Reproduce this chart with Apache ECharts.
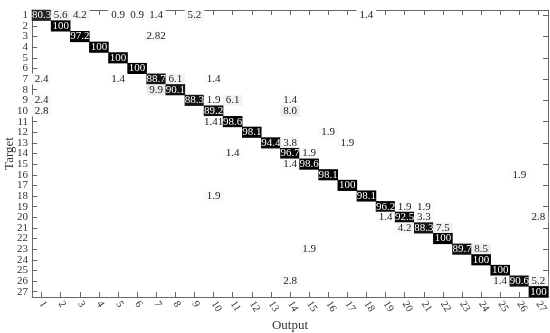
<!DOCTYPE html>
<html>
<head>
<meta charset="utf-8">
<script src="https://cdn.jsdelivr.net/npm/echarts@6/dist/echarts.min.js"></script>
<style>html,body{margin:0;padding:0;background:#fff}#c{width:550px;height:333px}</style>
</head>
<body>
<div id="c"></div>
<script>
// Tick labels
const outputs = Array.from({length: 27}, (_, i) => String(i + 1));
const targets = Array.from({length: 27}, (_, i) => String(i + 1));

// Non-zero cells: [target, output, value text] (percent)
const cells = [
  [1, 1, '80.3'], [1, 2, '5.6'], [1, 3, '4.2'], [1, 5, '0.9'], [1, 6, '0.9'], [1, 7, '1.4'], [1, 9, '5.2'], [1, 18, '1.4'],
  [2, 2, '100'],
  [3, 3, '97.2'], [3, 7, '2.82'],
  [4, 4, '100'],
  [5, 5, '100'],
  [6, 6, '100'],
  [7, 1, '2.4'], [7, 5, '1.4'], [7, 7, '88.7'], [7, 8, '6.1'], [7, 10, '1.4'],
  [8, 7, '9.9'], [8, 8, '90.1'],
  [9, 1, '2.4'], [9, 9, '88.3'], [9, 10, '1.9'], [9, 11, '6.1'], [9, 14, '1.4'],
  [10, 1, '2.8'], [10, 10, '89.2'], [10, 14, '8.0'],
  [11, 10, '1.41'], [11, 11, '98.6'],
  [12, 12, '98.1'], [12, 16, '1.9'],
  [13, 13, '94.4'], [13, 14, '3.8'], [13, 17, '1.9'],
  [14, 11, '1.4'], [14, 14, '96.7'], [14, 15, '1.9'],
  [15, 14, '1.4'], [15, 15, '98.6'],
  [16, 16, '98.1'], [16, 26, '1.9'],
  [17, 17, '100'],
  [18, 10, '1.9'], [18, 18, '98.1'],
  [19, 19, '96.2'], [19, 20, '1.9'], [19, 21, '1.9'],
  [20, 19, '1.4'], [20, 20, '92.5'], [20, 21, '3.3'], [20, 27, '2.8'],
  [21, 20, '4.2'], [21, 21, '88.3'], [21, 22, '7.5'],
  [22, 22, '100'],
  [23, 15, '1.9'], [23, 23, '89.7'], [23, 24, '8.5'],
  [24, 24, '100'],
  [25, 25, '100'],
  [26, 14, '2.8'], [26, 25, '1.4'], [26, 26, '90.6'], [26, 27, '5.2'],
  [27, 27, '100']
];

const serif = 'Liberation Serif';
const axisCol = '#666';
const data = cells.map(c => ({ value: [c[1] - 1, c[0] - 1, Number(c[2])], name: c[2] }));
const tick = { show: true, inside: true, alignWithLabel: true, length: 5, lineStyle: { color: axisCol } };

const chart = echarts.init(document.getElementById('c'));
chart.setOption({
  animation: false,
  grid: { left: 32, right: 2, top: 10, bottom: 36, containLabel: false, outerBoundsMode: 'none' },
  xAxis: [{
    type: 'category', data: outputs, position: 'bottom',
    name: 'Output', nameLocation: 'middle', nameGap: 22, nameMoveOverlap: false,
    nameTextStyle: { fontFamily: serif, fontSize: 13, color: '#333' },
    axisLine: { show: true, lineStyle: { color: axisCol } },
    axisTick: tick,
    axisLabel: { rotate: -58, fontFamily: serif, fontSize: 10.5, color: '#333', margin: 5, interval: 0 },
    splitLine: { show: false }
  }, {
    type: 'category', data: outputs, position: 'top',
    axisLine: { show: true, lineStyle: { color: axisCol } },
    axisTick: tick,
    axisLabel: { show: false }
  }],
  yAxis: [{
    type: 'category', data: targets, inverse: true, position: 'left',
    name: 'Target', nameLocation: 'middle', nameGap: 16, nameRotate: 90, nameMoveOverlap: false,
    nameTextStyle: { fontFamily: serif, fontSize: 13, color: '#333' },
    axisLine: { show: true, lineStyle: { color: axisCol } },
    axisTick: tick,
    axisLabel: { fontFamily: serif, fontSize: 11, color: '#333', margin: 4, interval: 0 }
  }, {
    type: 'category', data: targets, inverse: true, position: 'right',
    axisLine: { show: true, lineStyle: { color: axisCol } },
    axisTick: tick,
    axisLabel: { show: false }
  }],
  visualMap: {
    show: false, min: 0, max: 100, dimension: 2, seriesIndex: 0,
    inRange: { color: ['#ffffff', '#ebebeb', '#d0d0d0', '#b0b0b0', '#909090', '#707070', '#555555', '#3a3a3a', '#252525', '#101010', '#000000'] }
  },
  series: [{
    type: 'heatmap', xAxisIndex: 0, yAxisIndex: 0,
    data: data,
    itemStyle: { borderWidth: 0 },
    label: {
      show: true,
      formatter: p => (p.value[2] > 50 ? '{w|' : '{b|') + p.name + '}',
      rich: {
        w: { color: '#ffffff', fontFamily: serif, fontSize: 11 },
        b: { color: '#222222', fontFamily: serif, fontSize: 11 }
      }
    }
  }]
});
</script>
</body>
</html>
